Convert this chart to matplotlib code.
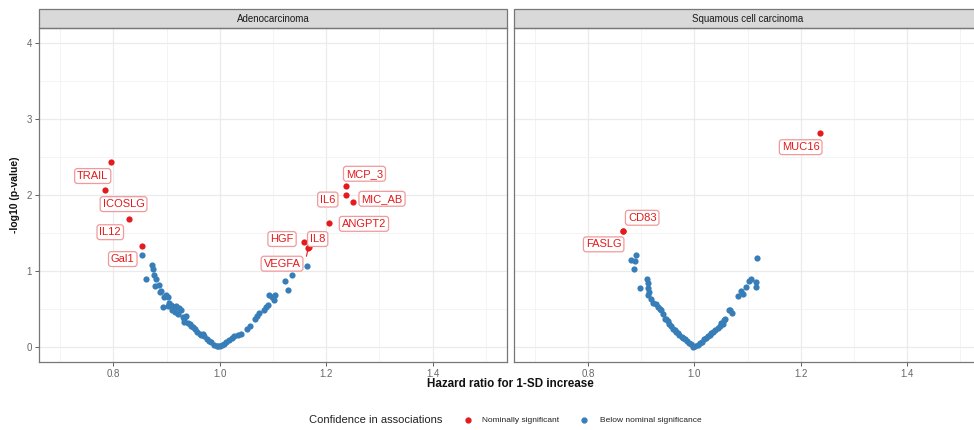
import numpy as np
import matplotlib
matplotlib.use("Agg")
import matplotlib.pyplot as plt
from matplotlib.patches import Rectangle
from matplotlib.lines import Line2D

plt.rcParams['font.family'] = ['Liberation Sans', 'DejaVu Sans']

RED = '#E41A1C'
BLUE = '#377EB8'

panels = ["Adenocarcinoma", "Squamous cell carcinoma"]

# below nominal significance: (hazard ratio, -log10 p)
ad_blue = [(0.853, 1.21), (0.872, 1.08), (0.875, 1.02), (0.861, 0.89), (0.876, 0.95),
           (0.880, 0.89), (0.878, 0.80), (0.886, 0.82), (0.890, 0.74), (0.888, 0.72),
           (0.899, 0.68), (0.895, 0.65), (0.902, 0.66), (0.893, 0.52), (0.902, 0.54),
           (0.908, 0.55), (0.913, 0.52), (0.918, 0.54), (0.924, 0.51), (0.915, 0.46),
           (0.921, 0.43), (0.927, 0.48), (0.930, 0.39), (0.937, 0.40), (0.933, 0.33),
           (0.940, 0.31), (0.945, 0.28), (0.949, 0.26), (0.953, 0.23), (0.958, 0.20),
           (0.962, 0.17), (0.965, 0.155), (0.971, 0.14), (0.976, 0.10), (0.980, 0.08),
           (0.984, 0.06), (0.990, 0.02), (0.994, 0.015), (0.997, 0.005), (1.000, 0.01),
           (1.004, 0.02), (1.008, 0.035), (1.012, 0.066), (1.018, 0.09), (1.022, 0.11),
           (1.027, 0.145), (1.035, 0.155), (1.040, 0.17), (1.051, 0.23), (1.056, 0.28),
           (1.066, 0.36), (1.070, 0.40), (1.074, 0.45), (1.083, 0.48), (1.087, 0.53),
           (1.091, 0.55), (1.093, 0.68), (1.098, 0.65), (1.103, 0.68), (1.101, 0.62),
           (1.123, 0.87), (1.129, 0.75), (1.135, 0.95), (1.164, 1.07), (0.905, 0.58),
           (0.910, 0.49), (0.932, 0.36), (0.943, 0.30), (0.968, 0.17)]

sq_blue = [(0.890, 1.21), (0.881, 1.14), (0.888, 1.13), (0.886, 1.03), (0.911, 0.90),
           (0.897, 0.78), (0.912, 0.84), (0.913, 0.77), (0.915, 0.72), (0.912, 0.68),
           (0.919, 0.63), (0.923, 0.58), (0.928, 0.56), (0.932, 0.52), (0.935, 0.50),
           (0.938, 0.48), (0.941, 0.43), (0.944, 0.37), (0.947, 0.36), (0.950, 0.34),
           (0.953, 0.30), (0.957, 0.28), (0.960, 0.24), (0.963, 0.22), (0.966, 0.20),
           (0.969, 0.18), (0.972, 0.155), (0.976, 0.13), (0.979, 0.12), (0.983, 0.10),
           (0.986, 0.08), (0.990, 0.05), (0.994, 0.035), (0.998, 0.0), (1.002, 0.01),
           (1.006, 0.03), (1.010, 0.05), (1.014, 0.07), (1.018, 0.10), (1.022, 0.12),
           (1.026, 0.14), (1.030, 0.16), (1.032, 0.18), (1.036, 0.20), (1.039, 0.22),
           (1.044, 0.25), (1.048, 0.27), (1.051, 0.32), (1.054, 0.30), (1.058, 0.37),
           (1.056, 0.35), (1.066, 0.48), (1.068, 0.49), (1.071, 0.45), (1.082, 0.67),
           (1.087, 0.73), (1.092, 0.70), (1.098, 0.79), (1.102, 0.87), (1.106, 0.90),
           (1.116, 0.86), (1.116, 0.79), (1.118, 1.17)]

# nominally significant: (name, hazard ratio, -log10 p)
ad_red = [("TRAIL", 0.796, 2.44), ("ICOSLG", 0.784, 2.06), ("IL12", 0.829, 1.69),
          ("Gal1", 0.853, 1.33), ("MCP_3", 1.237, 2.12), ("IL6", 1.238, 2.00),
          ("MIC_AB", 1.250, 1.91), ("ANGPT2", 1.205, 1.63), ("HGF", 1.158, 1.38),
          ("IL8", 1.167, 1.31), ("VEGFA", 1.166, 1.30)]
sq_red = [("MUC16", 1.236, 2.82), ("CD83", 0.866, 1.53), ("FASLG", 0.866, 1.53)]

# where the repelled labels ended up
label_pos = {"TRAIL": (0.761, 2.25), "ICOSLG": (0.819, 1.88), "IL12": (0.794, 1.51),
             "Gal1": (0.8175, 1.156), "MCP_3": (1.272, 2.28), "IL6": (1.203, 1.94),
             "MIC_AB": (1.305, 1.95), "ANGPT2": (1.271, 1.62), "HGF": (1.117, 1.42),
             "IL8": (1.184, 1.42), "VEGFA": (1.117, 1.095),
             "MUC16": (1.200, 2.63), "CD83": (0.902, 1.70), "FASLG": (0.8295, 1.35)}
with_segment = ["VEGFA"]

fig = plt.figure(figsize=(9.74, 4.3), dpi=100)
bottom = 68 / 430
height = 334 / 430
axes = [fig.add_axes([39 / 974, bottom, 468 / 974, height]),
        fig.add_axes([513.5 / 974, bottom, 468 / 974, height])]

for ax, title, blue, red in zip(axes, panels, [ad_blue, sq_blue], [ad_red, sq_red]):
    ax.set_xlim(0.66, 1.54)
    ax.set_ylim(-0.2, 4.2)
    ax.set_xticks([0.8, 1.0, 1.2, 1.4])
    ax.set_xticklabels(["0.8", "1.0", "1.2", "1.4"])
    ax.set_xticks([0.7, 0.9, 1.1, 1.3, 1.5], minor=True)
    ax.set_yticks([0, 1, 2, 3, 4])
    ax.set_yticks([0.5, 1.5, 2.5, 3.5], minor=True)
    ax.grid(which='major', color='#EBEBEB', lw=0.9)
    ax.grid(which='minor', color='#F3F3F3', lw=0.6)
    ax.set_axisbelow(True)
    ax.tick_params(which='major', length=3, width=0.6, color='#444444',
                   labelsize=7, labelcolor='#666666', pad=2)
    ax.tick_params(which='minor', length=0)
    for s in ax.spines.values():
        s.set_color('#777777')
        s.set_linewidth(0.9)

    b = np.array(blue)
    ax.scatter(b[:, 0], b[:, 1], s=20, color=BLUE, linewidths=0, zorder=3)
    rx = [r[1] for r in red]
    ry = [r[2] for r in red]
    ax.scatter(rx, ry, s=20, color=RED, linewidths=0, zorder=3)

    for name, hx, py in red:
        lx, ly = label_pos[name]
        bbox = dict(boxstyle='round,pad=0.22,rounding_size=0.25', fc='white',
                    ec='#F19A9B', lw=0.9)
        ax.text(lx, ly, name, ha='center', va='center', fontsize=8, color=RED,
                bbox=bbox, zorder=4)
        if name in with_segment:
            # short segment from the point down to the label's top edge
            ax.plot([hx, hx - 0.003], [py, ly + 0.1], color=RED, lw=0.8, zorder=3.5)

    # facet strip
    sh = 19 / 334
    ax.add_patch(Rectangle((0, 1), 1, sh, transform=ax.transAxes, clip_on=False,
                           fc='#D9D9D9', ec='#777777', lw=0.9))
    ax.text(0.5, 1 + sh / 2, title, transform=ax.transAxes, ha='center', va='center',
            fontsize=7, color='#1A1A1A')

axes[1].tick_params(axis='y', labelleft=False, length=0)

fig.text(0.524, 0.107, "Hazard ratio for 1-SD increase", ha='center', va='center',
         fontsize=8.4, fontweight='bold', color='#111111')
fig.text(15 / 974, 0.5465, "-log10 (p-value)", ha='center', va='center', rotation=90,
         fontsize=7.5, fontweight='bold', color='#111111')

# legend
ly = 10 / 430
fig.text(309 / 974, ly, "Confidence in associations", ha='left', va='center',
         fontsize=8, color='#222222')
fig.add_artist(Line2D([467.7 / 974], [ly], marker='o', ms=3.5, color=RED, lw=0,
                      transform=fig.transFigure))
fig.text(482 / 974, ly, "Nominally significant", ha='left', va='center',
         fontsize=6, color='#222222')
fig.add_artist(Line2D([584 / 974], [ly], marker='o', ms=3.5, color=BLUE, lw=0,
                      transform=fig.transFigure))
fig.text(600 / 974, ly, "Below nominal significance", ha='left', va='center',
         fontsize=6, color='#222222')

fig.savefig("out.png", dpi=100)
